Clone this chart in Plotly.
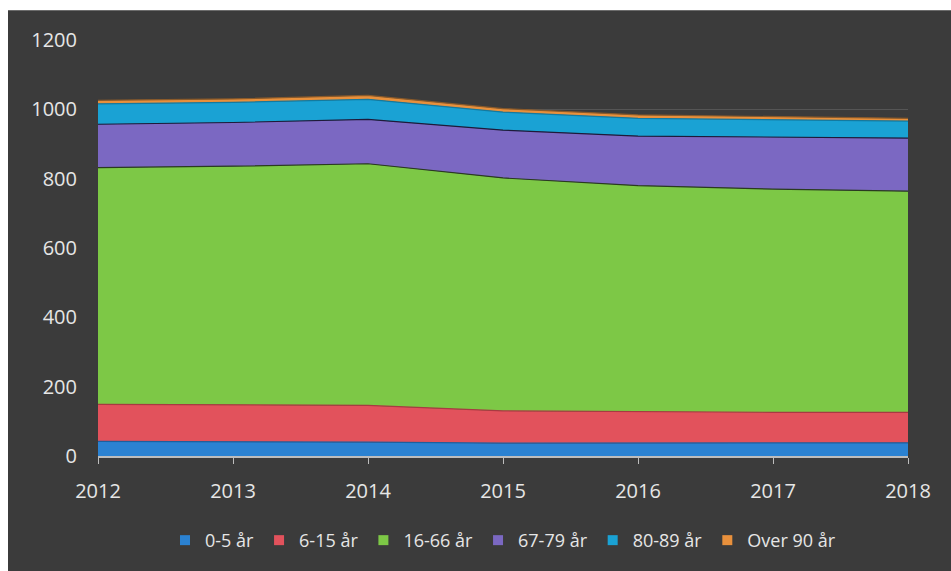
import plotly.graph_objects as go

years = [2012, 2013, 2014, 2015, 2016, 2017, 2018]
series_names = ["0-5 år", "6-15 år", "16-66 år", "67-79 år", "80-89 år", "Over 90 år"]
age_0_5 = [42, 42, 40, 37, 37, 37, 38]
age_6_15 = [107, 106, 106, 93, 90, 89, 88]
age_16_66 = [683, 688, 697, 672, 653, 644, 638]
age_67_79 = [125, 126, 128, 138, 143, 150, 153]
age_80_89 = [59, 58, 58, 52, 51, 50, 49]
age_90 = [10, 10, 11, 10, 10, 9, 8]
y_ticks = [0, 200, 400, 600, 800, 1000, 1200]

values = [age_0_5, age_6_15, age_16_66, age_67_79, age_80_89, age_90]
colors = ["#2b82d2", "#e2525c", "#7dc846", "#7b68c2", "#1aa2d4", "#e8903c"]
edges = ["#1d5f9e", "#a83a42", "#2a3a20", "#1e1a3a", "#137aa0", "#8a5a2a"]

fig = go.Figure()
for name, vals, c, e in zip(series_names, values, colors, edges):
    fig.add_trace(go.Scatter(
        x=years, y=vals, name=name, mode="lines", stackgroup="one",
        fillcolor=c, line=dict(color=e, width=1.2), showlegend=False,
    ))
for name, c in zip(series_names, colors):
    fig.add_trace(go.Scatter(
        x=[None], y=[None], name=name, mode="markers",
        marker=dict(symbol="square", size=10, color=c), showlegend=True,
    ))

bg = "#3b3b3b"
txt = "#e6e6e6"
fig.update_layout(
    width=951, height=571,
    margin=dict(l=98, r=43, t=40, b=113),
    paper_bgcolor=bg, plot_bgcolor=bg,
    font=dict(family="Open Sans, Noto Sans, sans-serif", color=txt, size=20),
    showlegend=True,
    legend=dict(orientation="h", x=0.5, xanchor="center", y=-0.203, yanchor="middle",
                font=dict(size=18, color=txt), itemwidth=30, traceorder="normal",
                bgcolor="rgba(0,0,0,0)"),
    xaxis=dict(range=[2012, 2018], tickvals=years, showgrid=False, zeroline=False,
               showline=True, linecolor="#bdbdbd", linewidth=1.5,
               ticks="outside", ticklen=6, tickcolor="#bdbdbd",
               ticklabelstandoff=10, tickfont=dict(size=20, color=txt)),
    yaxis=dict(range=[0, 1200], tickvals=y_ticks, showgrid=True,
               gridcolor="#555555", gridwidth=1, zeroline=False, showline=False,
               ticklabelstandoff=20, tickfont=dict(size=20, color=txt)),
    shapes=[
        dict(type="rect", xref="paper", yref="paper", x0=-0.2, x1=1.1,
             y0=(458 - 10) / 418, y1=1.12, fillcolor="white", line=dict(width=0),
             layer="above"),
        dict(type="rect", xref="paper", yref="paper", x0=-0.13, x1=(8 - 98) / 810,
             y0=-0.3, y1=1.12, fillcolor="white", line=dict(width=0),
             layer="above"),
    ],
)

fig.write_html("out.html")
